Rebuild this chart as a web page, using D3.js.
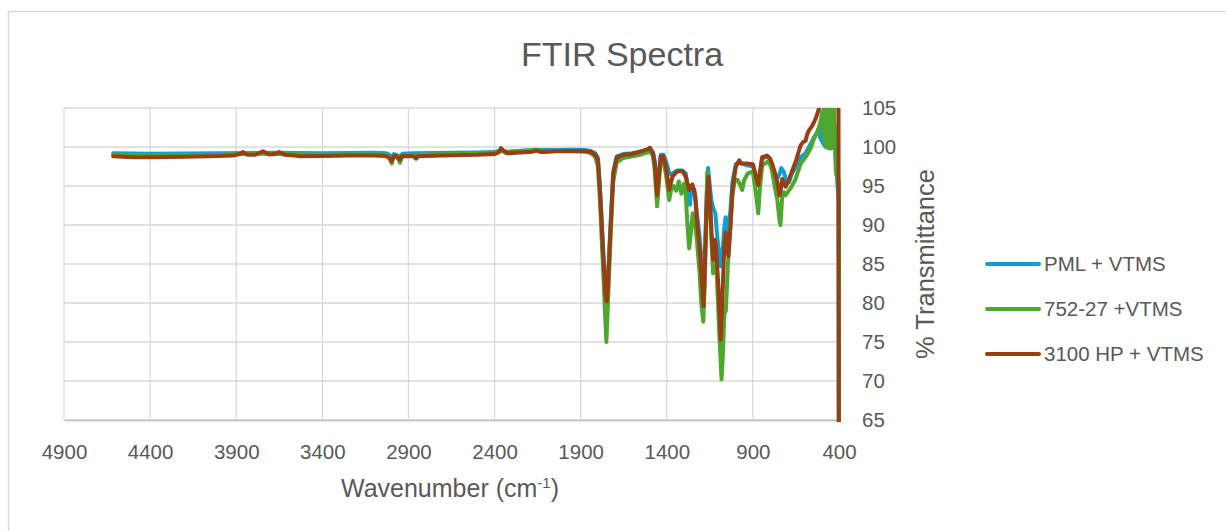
<!DOCTYPE html>
<html>
<head>
<meta charset="utf-8">
<script src="https://cdn.jsdelivr.net/npm/d3@7/dist/d3.min.js"></script>
<style>
  html, body { margin: 0; padding: 0; background: #ffffff; }
  svg { display: block; font-family: "Liberation Sans", Arial, sans-serif; }
</style>
</head>
<body>
<svg id="chart" width="1226" height="531"></svg>
<script>
// Axis ticks
const xTicks = [4900, 4400, 3900, 3400, 2900, 2400, 1900, 1400, 900, 400];
const yTicks = [65, 70, 75, 80, 85, 90, 95, 100, 105];

// Series names and colours
const seriesNames = ["PML + VTMS", "752-27 +VTMS", "3100 HP + VTMS"];
const seriesColors = ["#0f9ed5", "#4ea72e", "#973f12"];

// Spectra: [wavenumber (cm-1), % transmittance]
const pmlVtms = [
  [4614, 99.2], [4400, 99.15], [4000, 99.2], [3700, 99.25], [3400, 99.2], [3100, 99.25],
  [3030, 99.2], [3010, 99.0], [2997, 98.6], [2985, 99.1], [2960, 98.9], [2949, 98.7],
  [2935, 99.15], [2870, 99.2], [2500, 99.3], [2400, 99.35], [2363, 99.6], [2330, 99.4],
  [2160, 99.6], [2040, 99.6], [1944, 99.65], [1870, 99.6], [1840, 99.5], [1815, 99.2],
  [1800, 98.6], [1788, 95], [1769, 87], [1755, 81.5], [1749, 80.6], [1742, 82.5],
  [1730, 88.5], [1711, 96.8], [1691, 98.8], [1653, 99.1], [1600, 99.2], [1556, 99.4],
  [1512, 99.6], [1498, 99.8], [1480, 99.3], [1470, 98.2], [1456, 94.0], [1445, 96.8],
  [1435, 99.0], [1420, 99.0], [1405, 98.2], [1386, 96.7], [1375, 96.5], [1367, 96.6],
  [1338, 97.0], [1309, 97.0], [1290, 96.6], [1275, 94.5], [1266, 92.6], [1255, 95.0],
  [1240, 94.5], [1225, 91.5], [1212, 89], [1200, 86], [1187, 81.5], [1178, 87],
  [1168, 94], [1160, 97.3], [1150, 95], [1140, 93], [1128, 92.0], [1118, 91.5],
  [1105, 88], [1087, 84.7], [1078, 86], [1067, 89.5], [1058, 91], [1042, 89],
  [1030, 92], [1019, 95.5], [999, 97.8], [979, 98.0], [940, 97.7], [900, 97.5],
  [885, 96.5], [869, 95.3], [860, 96.6], [846, 98.6], [817, 98.7], [800, 98.5],
  [788, 97.6], [770, 96.5], [759, 96.0], [745, 96.5], [735, 97.3], [720, 96.8],
  [705, 95.6], [690, 95.5], [675, 96.5], [652, 97.4], [623, 98.7], [594, 99.2],
  [565, 100.4], [546, 101.2], [526, 101.9], [515, 102.5], [510, 101.2], [506, 103.4],
  [502, 100.8], [498, 103.8], [494, 100.5], [490, 104.5], [486, 100.2], [482, 105.5],
  [478, 100.0], [474, 104.8], [470, 100.3], [466, 106], [462, 99.9], [458, 105],
  [454, 100.2], [450, 106], [446, 99.8], [442, 104], [438, 100.1], [434, 105.5],
  [430, 99.9], [426, 103], [422, 99.6], [418, 98], [410, 95.5], [403, 93.2], [400, 40]
];

const sample75227 = [
  [4614, 99.0], [4400, 98.95], [4000, 99.0], [3860, 99.1], [3750, 99.15], [3650, 99.1],
  [3400, 99.0], [3100, 99.05], [3030, 99.0], [3010, 98.5], [2997, 97.9], [2985, 98.9],
  [2975, 99.0], [2960, 98.5], [2949, 98.0], [2935, 98.9], [2870, 99.0], [2855, 98.8],
  [2845, 99.0], [2500, 99.2], [2400, 99.3], [2363, 99.5], [2330, 99.3], [2160, 99.65],
  [2130, 99.4], [2040, 99.5], [1944, 99.5], [1870, 99.4], [1840, 99.2], [1815, 98.7],
  [1800, 97.5], [1788, 93], [1769, 84], [1755, 77], [1751, 75.0], [1745, 78],
  [1730, 86.5], [1711, 95.5], [1691, 98.0], [1653, 98.6], [1600, 98.8], [1556, 99.0],
  [1512, 99.3], [1498, 99.5], [1480, 98.8], [1470, 97], [1456, 92.4], [1445, 95.5],
  [1435, 98.3], [1420, 98.3], [1405, 96.5], [1386, 93.2], [1375, 94.5], [1360, 95.0],
  [1345, 94.4], [1330, 95.6], [1315, 94.0], [1300, 95.3], [1290, 94], [1280, 90],
  [1270, 87.0], [1260, 89], [1250, 91.5], [1240, 91], [1225, 88], [1210, 84],
  [1200, 80], [1188, 77.6], [1180, 82], [1170, 92], [1165, 96.8], [1155, 94],
  [1145, 90], [1131, 83.8], [1122, 86.5], [1110, 84], [1095, 76], [1082, 70.2],
  [1075, 73], [1065, 78.7], [1057, 79], [1045, 85], [1042, 86], [1030, 90],
  [1019, 93.7], [1005, 95.8], [990, 95.8], [975, 95.2], [962, 94.5], [950, 95.8],
  [930, 96.6], [910, 96.8], [900, 96.8], [885, 94.5], [869, 91.5], [860, 94.5],
  [846, 97.6], [817, 98.1], [800, 97.8], [788, 96.8], [770, 94.5], [759, 93.4],
  [745, 90.5], [740, 90.0], [730, 93.5], [720, 94.2], [710, 93.8], [695, 94.3],
  [681, 94.7], [652, 95.9], [623, 97.85], [594, 98.7], [565, 99.8], [546, 101.0],
  [526, 101.9], [507, 103.2], [497, 104.6], [494, 104.2], [491, 101.5], [488, 105.6],
  [485, 100.6], [482, 106], [479, 100.2], [476, 105.8], [473, 100.4], [470, 106],
  [467, 99.9], [464, 105.5], [461, 100.5], [458, 106], [455, 99.8], [452, 105.9],
  [449, 100.3], [446, 106], [443, 100.0], [440, 105.7], [437, 99.9], [434, 106],
  [431, 100.2], [428, 105.5], [425, 99.8], [422, 100.5], [419, 97], [415, 96.4],
  [405, 96], [401, 95.6], [400, 40]
];

const hp3100Vtms = [
  [4614, 98.8], [4500, 98.7], [4400, 98.7], [4200, 98.75], [4000, 98.85], [3920, 98.9],
  [3880, 99.1], [3860, 99.35], [3835, 99.0], [3790, 99.0], [3745, 99.45], [3710, 99.05],
  [3680, 99.1], [3650, 99.35], [3620, 99.0], [3560, 98.9], [3530, 98.8], [3400, 98.85],
  [3240, 98.9], [3100, 98.9], [3030, 98.85], [3010, 98.6], [2997, 98.2], [2985, 98.8],
  [2975, 98.9], [2960, 98.6], [2949, 98.4], [2935, 98.85], [2870, 98.8], [2855, 98.5],
  [2845, 98.8], [2700, 98.9], [2500, 99.0], [2400, 99.1], [2375, 99.3], [2363, 99.85],
  [2345, 99.5], [2330, 99.2], [2250, 99.3], [2180, 99.4], [2156, 99.55], [2130, 99.35],
  [2040, 99.45], [1944, 99.5], [1870, 99.45], [1840, 99.35], [1815, 99.0], [1800, 98.4],
  [1788, 94.5], [1769, 86], [1755, 81], [1749, 80.2], [1742, 82], [1730, 88.1],
  [1711, 96.6], [1691, 98.6], [1653, 99.0], [1600, 99.1], [1556, 99.4], [1512, 99.7],
  [1498, 99.9], [1480, 99.2], [1470, 98.0], [1456, 93.8], [1445, 96.5], [1435, 98.8],
  [1420, 98.8], [1405, 97.5], [1386, 94.5], [1375, 95.5], [1367, 96.2], [1338, 96.9],
  [1309, 96.9], [1290, 96.2], [1270, 94.5], [1260, 95.0], [1251, 95.2], [1235, 93.8],
  [1225, 90.5], [1212, 87.7], [1200, 84], [1187, 79.6], [1178, 85], [1170, 91.5],
  [1158, 96.2], [1148, 93], [1140, 89], [1131, 85.6], [1122, 88.1], [1115, 87.5],
  [1100, 82], [1087, 75.3], [1078, 80], [1067, 86.8], [1058, 89.0], [1048, 87],
  [1042, 86.0], [1030, 90], [1019, 94.5], [999, 97.5], [979, 98.3], [970, 97.9],
  [940, 97.9], [923, 97.85], [900, 97.8], [885, 96.5], [869, 95.1], [860, 96.5],
  [846, 98.7], [817, 98.9], [800, 98.5], [788, 97.85], [770, 96.5], [759, 95.5],
  [745, 93.8], [738, 94.5], [730, 95.9], [720, 95.4], [710, 94.9], [695, 95.6],
  [681, 96.4], [652, 98.1], [623, 100.2], [610, 100.6], [594, 100.8], [585, 101.6],
  [575, 102.1], [556, 102.7], [545, 103.2], [536, 103.6], [525, 104.3], [517, 104.9],
  [500, 106], [470, 107], [440, 107], [420, 106], [403, 106], [400, 40]
];

const seriesData = [pmlVtms, sample75227, hp3100Vtms];

const svg = d3.select("#chart");
const W = 1226, H = 531;
const plot = { left: 64, right: 839, top: 108, bottom: 420 };
const fontFamily = "'Liberation Sans', Arial, sans-serif";
const textColor = "#595959";
const gridColor = "#d9d9d9";

// Chart frame
svg.append("rect")
  .attr("x", 8.5).attr("y", 11.5)
  .attr("width", W + 40).attr("height", H + 40)
  .attr("fill", "#ffffff").attr("stroke", gridColor).attr("stroke-width", 1.5);

const x = d3.scaleLinear().domain([4900, 400]).range([plot.left, plot.right]);
const y = d3.scaleLinear().domain([65, 105]).range([plot.bottom, plot.top]);

// Gridlines
const grid = svg.append("g");
grid.selectAll("line.v").data(xTicks).join("line")
  .attr("x1", d => x(d)).attr("x2", d => x(d))
  .attr("y1", plot.top).attr("y2", plot.bottom)
  .attr("stroke", gridColor).attr("stroke-width", 1.3);
grid.selectAll("line.h").data(yTicks).join("line")
  .attr("x1", plot.left).attr("x2", plot.right)
  .attr("y1", d => y(d)).attr("y2", d => y(d))
  .attr("stroke", gridColor).attr("stroke-width", 1.3);

// Axes
const xAxis = svg.append("g")
  .attr("transform", `translate(0,${plot.bottom})`)
  .call(d3.axisBottom(x).tickValues(xTicks).tickSize(0).tickPadding(24).tickFormat(d3.format("d")));
xAxis.select(".domain").attr("stroke", "#bfbfbf").attr("stroke-width", 1.3);
xAxis.selectAll("text").attr("fill", textColor).attr("font-size", 20.5).attr("font-family", fontFamily);

const yAxis = svg.append("g")
  .attr("transform", `translate(${plot.right},0)`)
  .call(d3.axisRight(y).tickValues(yTicks).tickSize(0).tickPadding(23).tickFormat(d3.format("d")));
yAxis.select(".domain").remove();
yAxis.selectAll("text").attr("fill", textColor).attr("font-size", 20.5).attr("font-family", fontFamily);

// Series lines, clipped to the plot area
svg.append("clipPath").attr("id", "plotClip")
  .append("rect")
  .attr("x", plot.left).attr("y", plot.top)
  .attr("width", plot.right - plot.left + 2).attr("height", plot.bottom - plot.top + 2);

const line = d3.line().x(d => x(d[0])).y(d => y(d[1]));
svg.append("g").attr("clip-path", "url(#plotClip)")
  .selectAll("path").data(seriesData).join("path")
  .attr("d", line)
  .attr("fill", "none")
  .attr("stroke", (d, i) => seriesColors[i])
  .attr("stroke-width", 4)
  .attr("stroke-linejoin", "round")
  .attr("stroke-linecap", "round");

// Title
svg.append("text")
  .attr("x", 622).attr("y", 66)
  .attr("text-anchor", "middle")
  .attr("fill", textColor).attr("font-size", 34).attr("font-family", fontFamily)
  .text("FTIR Spectra");

// X axis title with superscript
const xt = svg.append("text")
  .attr("x", 450).attr("y", 497)
  .attr("text-anchor", "middle")
  .attr("fill", textColor).attr("font-size", 25).attr("font-family", fontFamily);
xt.append("tspan").text("Wavenumber (cm");
xt.append("tspan").attr("dy", -9).attr("font-size", 15).text("-1");
xt.append("tspan").attr("dy", 9).text(")");

// Y axis title
svg.append("text")
  .attr("transform", "translate(934,264) rotate(-90)")
  .attr("text-anchor", "middle")
  .attr("fill", textColor).attr("font-size", 25.5).attr("font-family", fontFamily)
  .text("% Transmittance");

// Legend
const legend = svg.append("g");
const legendY = [264, 309, 354];
seriesNames.forEach((name, i) => {
  legend.append("line")
    .attr("x1", 987).attr("x2", 1039)
    .attr("y1", legendY[i]).attr("y2", legendY[i])
    .attr("stroke", seriesColors[i]).attr("stroke-width", 4)
    .attr("stroke-linecap", "round");
  legend.append("text")
    .attr("x", 1044).attr("y", legendY[i] + 7)
    .attr("fill", textColor).attr("font-size", 20.5).attr("font-family", fontFamily)
    .text(name);
});
</script>
</body>
</html>
